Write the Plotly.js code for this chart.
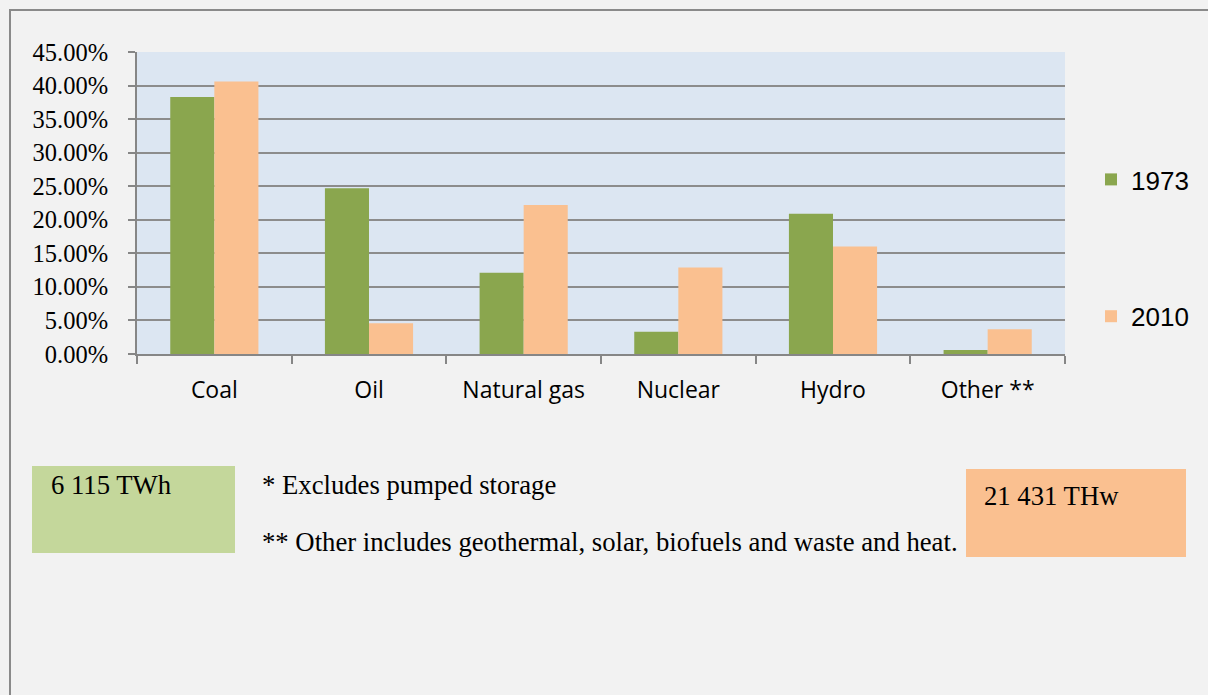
<!DOCTYPE html>
<html>
<head>
<meta charset="utf-8">
<script src="https://cdn.plot.ly/plotly-3.0.1.min.js"></script>
<style>
html,body{margin:0;padding:0;background:#f2f2f2;overflow:hidden;}
#chart{width:1208px;height:695px;}
</style>
</head>
<body>
<div id="chart"></div>
<script>
const categories = ["Coal", "Oil", "Natural gas", "Nuclear", "Hydro", "Other **"];
const values1973 = [38.3, 24.7, 12.1, 3.3, 20.9, 0.6];
const values2010 = [40.6, 4.6, 22.2, 12.9, 16.0, 3.7];
const seriesNames = ["1973", "2010"];
const yTicks = [0, 5, 10, 15, 20, 25, 30, 35, 40, 45];
const yTickText = ["0.00%", "5.00%", "10.00%", "15.00%", "20.00%", "25.00%", "30.00%", "35.00%", "40.00%", "45.00%"];
const boxLabel1973 = "6 115 TWh";
const boxLabel2010 = "21 431 THw";
const note1 = "* Excludes pumped storage";
const note2 = "** Other includes geothermal, solar, biofuels and waste and heat.";

const W = 1208, H = 695;
const L = 137, R = 1065, T = 52, B = 354;
const px = x => (x - L) / (R - L);
const py = y => (B - y) / (B - T);

const serif = "'Liberation Serif', 'Times New Roman', serif";
const sans = "'Open Sans', 'Liberation Sans', Arial, sans-serif";
const arial = "'Liberation Sans', Arial, sans-serif";

const traces = [
  {type: "bar", name: seriesNames[0], x: categories, y: values1973,
   marker: {color: "#8aa64e", line: {width: 0}}, legendgroup: "a"},
  {type: "bar", name: seriesNames[1], x: categories, y: values2010,
   marker: {color: "#fac090", line: {width: 0}}, legendgroup: "b"}
];

const layout = {
  width: W, height: H,
  margin: {l: L, r: W - R, t: T, b: H - B, pad: 0},
  paper_bgcolor: "#f2f2f2",
  plot_bgcolor: "#dce6f2",
  barmode: "group",
  bargap: 0.43,
  bargroupgap: 0,
  showlegend: true,
  legend: {
    x: px(1091), xanchor: "left", y: py(156), yanchor: "top",
    bgcolor: "rgba(0,0,0,0)", borderwidth: 0,
    font: {family: arial, size: 26, color: "#000"},
    traceorder: "grouped", tracegroupgap: 100,
    itemwidth: 30
  },
  xaxis: {
    type: "category",
    showgrid: false, zeroline: false,
    showline: true, linecolor: "#868686", linewidth: 2,
    ticks: "outside", ticklen: 8, tickwidth: 2, tickcolor: "#868686",
    tickson: "boundaries",
    tickfont: {family: sans, size: 23, color: "#000"},
    ticklabelstandoff: 14,
    fixedrange: true
  },
  yaxis: {
    range: [0, 45],
    tickvals: yTicks,
    ticktext: yTickText,
    showgrid: true, gridcolor: "#8c8c8c", gridwidth: 2,
    zeroline: false,
    showline: true, linecolor: "#868686", linewidth: 2,
    ticks: "outside", ticklen: 7, tickwidth: 2, tickcolor: "#868686",
    tickfont: {family: serif, size: 24.5, color: "#000"},
    ticklabelstandoff: 15,
    fixedrange: true
  },
  shapes: [
    {type: "rect", xref: "paper", yref: "paper",
     x0: px(10), x1: px(1260), y0: py(760), y1: py(10),
     line: {color: "#8a8a8a", width: 2}, fillcolor: "rgba(0,0,0,0)", layer: "below"},
    {type: "rect", xref: "paper", yref: "paper",
     x0: px(32), x1: px(235), y0: py(553), y1: py(466),
     line: {width: 0}, fillcolor: "#c4d79b"},
    {type: "rect", xref: "paper", yref: "paper",
     x0: px(966), x1: px(1186), y0: py(557), y1: py(469),
     line: {width: 0}, fillcolor: "#fac090"}
  ],
  annotations: [
    {xref: "paper", yref: "paper", x: px(49), y: py(485), xanchor: "left", yanchor: "middle",
     text: boxLabel1973, showarrow: false, font: {family: serif, size: 26.7, color: "#000"}},
    {xref: "paper", yref: "paper", x: px(982), y: py(496), xanchor: "left", yanchor: "middle",
     text: boxLabel2010, showarrow: false, font: {family: serif, size: 26.7, color: "#000"}},
    {xref: "paper", yref: "paper", x: px(260), y: py(485), xanchor: "left", yanchor: "middle",
     text: note1, showarrow: false, font: {family: serif, size: 26.7, color: "#000"}},
    {xref: "paper", yref: "paper", x: px(260), y: py(542), xanchor: "left", yanchor: "middle",
     text: note2, showarrow: false, font: {family: serif, size: 26.7, color: "#000"}}
  ]
};

Plotly.newPlot("chart", traces, layout, {displayModeBar: false, staticPlot: true});
</script>
</body>
</html>
